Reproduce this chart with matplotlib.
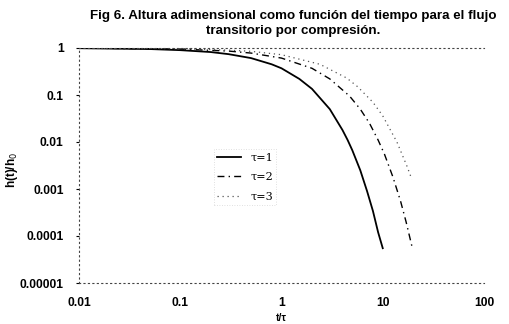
import numpy as np
import matplotlib.pyplot as plt

plt.rcParams['font.family'] = ['Liberation Sans', 'DejaVu Sans']

# valores (t/tau, h(t)/h0)
t1 = [0.01, 0.05, 0.1, 0.2, 0.3, 0.5, 0.8, 1.0, 1.5, 2.0, 3.0, 4.0, 4.5, 5.0, 6.0, 7.0, 8.0, 9.0, 10.0]
h1 = [0.99, 0.95, 0.90, 0.82, 0.74, 0.61, 0.45, 0.37, 0.22, 0.135, 0.050, 0.018, 0.011, 0.0067, 0.0025, 0.0009, 0.00034, 0.00012, 0.000055]

t2 = [0.01, 0.1, 0.3, 0.5, 1.0, 2.0, 3.0, 4.7, 6.0, 7.4, 9.0, 10.4, 12.6, 15.0, 17.0, 19.5]
h2 = [0.995, 0.95, 0.86, 0.78, 0.61, 0.37, 0.22, 0.095, 0.05, 0.025, 0.011, 0.0055, 0.0018, 0.00055, 0.0002, 0.000058]

t3 = [0.01, 0.1, 0.3, 0.5, 1.0, 2.4, 4.4, 5.65, 8.0, 10.0, 13.8, 17.3, 19.4]
h3 = [0.997, 0.97, 0.90, 0.85, 0.72, 0.45, 0.23, 0.15, 0.07, 0.036, 0.010, 0.0031, 0.0016]

yticks = [1, 0.1, 0.01, 0.001, 0.0001, 0.00001]
ytick_labels = ["1", "0.1", "0.01", "0.001", "0.0001", "0.00001"]
xticks = [0.01, 0.1, 1, 10, 100]
xtick_labels = ["0.01", "0.1", "1", "10", "100"]

fig = plt.figure(figsize=(5.09, 3.24), dpi=100)
ax = fig.add_axes([79/509, 1 - 283/324, 405/509, 235/324])

ax.plot(t1, h1, color="black", lw=1.3, label="τ=1")
ax.plot(t2, h2, color="black", lw=1.0, linestyle=(0, (5, 3, 1, 3)), label="τ=2")
ax.plot(t3, h3, color="#555555", lw=0.9, linestyle=(0, (1, 3)), label="τ=3")

ax.set_xscale("log")
ax.set_yscale("log")
ax.set_xlim(0.01, 100)
ax.set_ylim(0.00001, 1)

ax.set_xticks(xticks)
ax.set_xticklabels(xtick_labels)
ax.set_yticks(yticks)
ax.set_yticklabels(ytick_labels)
ax.minorticks_off()
ax.tick_params(axis="x", length=0, pad=10, labelsize=8.7)
ax.tick_params(axis="y", length=2, pad=9, labelsize=8.7)
for lab in ax.get_xticklabels() + ax.get_yticklabels():
    lab.set_fontweight("bold")

ax.spines["right"].set_visible(False)
for s in ["left", "top", "bottom"]:
    ax.spines[s].set_linestyle((0, (1, 3)))
    ax.spines[s].set_color("#444444")
    ax.spines[s].set_linewidth(0.8)

ax.set_title("Fig 6. Altura adimensional como función del tiempo para el flujo\ntransitorio por compresión.",
             fontsize=9.6, fontweight="bold", pad=10, linespacing=1.3, x=0.53)
ax.set_xlabel("t/τ", fontsize=7.5, fontweight="bold", labelpad=3)
ax.set_ylabel("h(t)/h$_0$", fontsize=8.5, fontweight="bold")
ax.yaxis.set_label_coords(-0.145, 0.48)

leg = ax.legend(loc="center", bbox_to_anchor=(0.41, 0.45),
                prop={"family": "serif", "size": 8}, frameon=True,
                handlelength=2.2, labelspacing=0.85, borderpad=0.3, fancybox=False)
leg.get_frame().set_edgecolor("#cccccc")
leg.get_frame().set_linestyle((0, (1, 2)))
leg.get_frame().set_linewidth(0.6)

fig.savefig("out.png", dpi=100)
